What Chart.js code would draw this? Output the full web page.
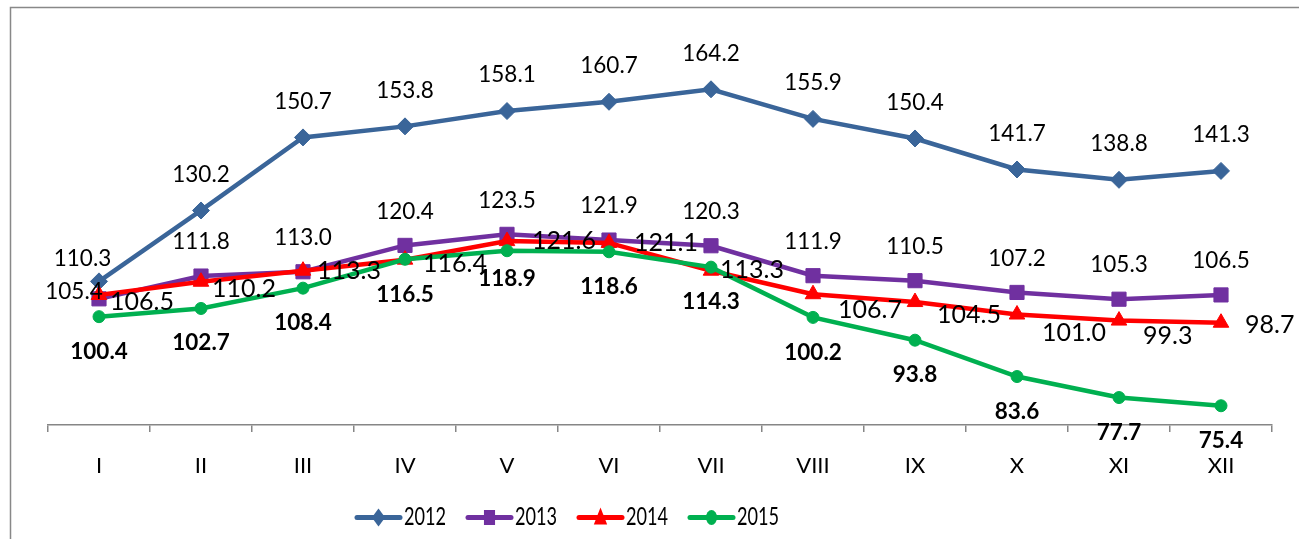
<!DOCTYPE html>
<html><head><meta charset="utf-8">
<script src="https://cdn.jsdelivr.net/npm/chart.js@4.4.1/dist/chart.umd.min.js"></script>
<style>html,body{margin:0;padding:0;background:#fff;} canvas{display:block;}</style>
</head><body>
<canvas id="c" width="1299" height="539"></canvas>
<script>
const categories = ['I','II','III','IV','V','VI','VII','VIII','IX','X','XI','XII'];
const seriesNames = ['2012','2013','2014','2015'];
const values2012 = [110.3,130.2,150.7,153.8,158.1,160.7,164.2,155.9,150.4,141.7,138.8,141.3];
const values2013 = [105.4,111.8,113.0,120.4,123.5,121.9,120.3,111.9,110.5,107.2,105.3,106.5];
const values2014 = [106.5,110.2,113.3,116.4,121.6,121.1,113.3,106.7,104.5,101.0,99.3,98.7];
const values2015 = [100.4,102.7,108.4,116.5,118.9,118.6,114.3,100.2,93.8,83.6,77.7,75.4];
const yMin = 70, yMax = 180;

const colors = ['#3a6599', '#7030a0', '#ff0000', '#00b050'];

const framePlugin = {
  id: 'frame',
  beforeDraw(chart) {
    const ctx = chart.ctx;
    ctx.save();
    ctx.fillStyle = '#fff';
    ctx.fillRect(0, 0, chart.width, chart.height);
    ctx.strokeStyle = '#888888';
    ctx.lineWidth = 1.5;
    ctx.beginPath();
    ctx.moveTo(10.5, chart.height + 2);
    ctx.lineTo(10.5, 7.5);
    ctx.lineTo(chart.width + 2, 7.5);
    ctx.stroke();
    ctx.restore();
  }
};

const labelPlugin = {
  id: 'pointLabels',
  afterDatasetsDraw(chart, args, opts) {
    const ctx = chart.ctx;
    chart.data.datasets.forEach((ds, di) => {
      const cfg = opts.series[di];
      const meta = chart.getDatasetMeta(di);
      ctx.save();
      ctx.font = cfg.font;
      ctx.fillStyle = '#000';
      ctx.textBaseline = 'middle';
      meta.data.forEach((pt, i) => {
        const txt = ds.data[i].toFixed(1);
        const adj = (cfg.adjust && cfg.adjust[i]) || [0, 0];
        let x = pt.x, y = pt.y - 1;
        if (cfg.pos === 'above') { ctx.textAlign = 'center'; y -= cfg.dist; }
        else if (cfg.pos === 'below') { ctx.textAlign = 'center'; y += cfg.dist; }
        else { ctx.textAlign = 'left'; x += cfg.dist; }
        ctx.fillText(txt, x + adj[0], y + adj[1]);
      });
      ctx.restore();
    });
  }
};

function drawMarker(ctx, style, r) {
  ctx.beginPath();
  if (style === 'rectRot') {
    ctx.moveTo(0, -r); ctx.lineTo(r, 0); ctx.lineTo(0, r); ctx.lineTo(-r, 0);
  } else if (style === 'rect') {
    ctx.rect(-r, -r, 2 * r, 2 * r);
  } else if (style === 'triangle') {
    ctx.moveTo(0, -r); ctx.lineTo(r * 0.9, r * 0.7); ctx.lineTo(-r * 0.9, r * 0.7);
  } else {
    ctx.arc(0, 0, r, 0, Math.PI * 2);
  }
  ctx.closePath();
  ctx.fill();
}

const legendPlugin = {
  id: 'lineLegend',
  afterDraw(chart, args, opts) {
    const ctx = chart.ctx;
    chart.data.datasets.forEach((ds, di) => {
      const x0 = opts.startX + di * opts.spacing;
      const y = opts.y;
      ctx.save();
      ctx.strokeStyle = ds.borderColor;
      ctx.fillStyle = ds.borderColor;
      ctx.lineWidth = 5;
      ctx.lineCap = 'round';
      ctx.beginPath();
      ctx.moveTo(x0, y); ctx.lineTo(x0 + opts.lineLen, y);
      ctx.stroke();
      ctx.translate(x0 + opts.lineLen / 2, y);
      ctx.scale(opts.squish, 1);
      drawMarker(ctx, ds.pointStyle, opts.markerSize[di]);
      ctx.restore();
      ctx.save();
      ctx.translate(x0 + opts.lineLen + 4, y);
      ctx.scale(opts.squish, 1);
      ctx.font = opts.font;
      ctx.fillStyle = '#000';
      ctx.textBaseline = 'middle';
      ctx.textAlign = 'left';
      ctx.fillText(ds.label, 0, 0);
      ctx.restore();
    });
  }
};

const seriesValues = [values2012, values2013, values2014, values2015];
const pointStyles = ['rectRot', 'rect', 'triangle', 'circle'];
const pointRadii = [8.5, 10, 9, 6];

const datasets = seriesNames.map((name, i) => ({
  label: name,
  data: seriesValues[i],
  borderColor: colors[i],
  backgroundColor: colors[i],
  pointBackgroundColor: colors[i],
  pointBorderColor: colors[i],
  pointStyle: pointStyles[i],
  pointRadius: pointRadii[i],
  pointBorderWidth: 1,
  borderWidth: 4.5,
  tension: 0,
  fill: false,
  order: 4 - i
}));

new Chart(document.getElementById('c'), {
  type: 'line',
  data: { labels: categories, datasets },
  options: {
    responsive: false,
    animation: false,
    layout: { padding: { left: 48, right: 27, top: 33, bottom: 54 } },
    plugins: {
      legend: { display: false },
      tooltip: { enabled: false },
      pointLabels: {
        series: [
          { pos: 'above', dist: 35, font: '22.5px Lato', adjust: { 0: [-16.5, 13] } },
          { pos: 'above', dist: 33, font: '22.5px Lato', adjust: { 0: [-25, 26.5] } },
          { pos: 'right', dist: 19, font: '25px Lato', adjust: {
              0: [-8, 8], 1: [-8, 8], 2: [-5, 1], 3: [-1, 5], 4: [6, 1], 5: [6, 1],
              6: [-10, 0], 7: [6, 17], 8: [3, 14], 9: [6, 19.5], 10: [5, 16], 11: [5, 3] } },
          { pos: 'below', dist: 36, font: 'bold 22.5px Lato', adjust: { 1: [0, -1], 4: [0, -7] } }
        ]
      },
      lineLegend: {
        startX: 357, spacing: 111, y: 517.5, lineLen: 43, squish: 0.74,
        markerSize: [9, 7.5, 10, 7.5], font: '24.5px Lato'
      }
    },
    scales: {
      x: {
        type: 'category',
        offset: true,
        grid: { offset: true, drawOnChartArea: false, drawTicks: true, tickLength: 7, color: '#868686', lineWidth: 1.5 },
        border: { display: true, color: '#868686', width: 1.5 },
        ticks: { color: '#000', font: { family: 'Lato', size: 22 }, padding: 21, maxRotation: 0, autoSkip: false },
        afterFit(scale) { scale.height = 60; }
      },
      y: { display: false, min: yMin, max: yMax }
    }
  },
  plugins: [framePlugin, labelPlugin, legendPlugin]
});
</script>
</body></html>
